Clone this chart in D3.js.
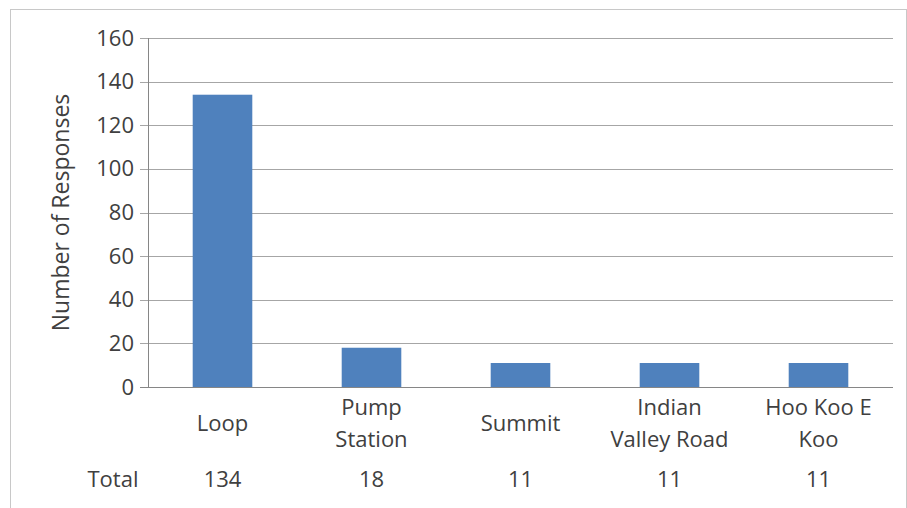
<!DOCTYPE html>
<html>
<head>
  <meta charset="utf-8">
  <title>Number of Responses</title>
  <script src="https://cdn.jsdelivr.net/npm/d3@7"></script>
  <style>
    body { margin: 0; background: #fff; }
    text { font-family: "Open Sans", sans-serif; fill: #404040; }
    .tick text { font-size: 22px; }
    .grid line { stroke: #a6a6a6; shape-rendering: crispEdges; }
    .grid path { display: none; }
  </style>
</head>
<body>
<script>
  // data
  var categories = ["Loop", "Pump|Station", "Summit", "Indian|Valley Road", "Hoo Koo E|Koo"];
  var values = [134, 18, 11, 11, 11];
  var yTicks = [0, 20, 40, 60, 80, 100, 120, 140, 160];

  var width = 907, height = 508;
  var plotLeft = 148, plotRight = 893, plotTop = 38, plotBottom = 387;

  var svg = d3.select("body").append("svg")
      .attr("width", width)
      .attr("height", height);

  // outer border
  svg.append("rect")
     .attr("x", 10.5).attr("y", 9.5)
     .attr("width", 896).attr("height", 520)
     .attr("fill", "none")
     .attr("stroke", "#c8c8c8");

  var x = d3.scaleBand().domain(categories).range([plotLeft, plotRight]).paddingInner(0.6).paddingOuter(0.3);
  var y = d3.scaleLinear().domain([0, 160]).range([plotBottom, plotTop]);

  // gridlines + y axis labels
  var yAxis = d3.axisLeft(y).tickValues(yTicks).tickSize(-(plotRight - plotLeft)).tickPadding(14);
  var gy = svg.append("g")
     .attr("class", "grid")
     .attr("transform", "translate(" + plotLeft + ",0)")
     .call(yAxis);
  gy.selectAll(".tick line").attr("x1", -8);

  // axis lines
  svg.append("line")
     .attr("x1", plotLeft + 0.5).attr("x2", plotLeft + 0.5)
     .attr("y1", plotTop).attr("y2", plotBottom)
     .attr("stroke", "#868686");
  svg.append("line")
     .attr("x1", plotLeft - 8).attr("x2", plotRight)
     .attr("y1", plotBottom + 0.5).attr("y2", plotBottom + 0.5)
     .attr("stroke", "#868686");

  // bars
  svg.selectAll(".bar")
     .data(values)
     .enter()
     .append("rect")
     .attr("class", "bar")
     .attr("x", function(d, i) { return x(categories[i]); })
     .attr("width", x.bandwidth())
     .attr("y", function(d) { return y(d); })
     .attr("height", function(d) { return y(0) - y(d); })
     .attr("fill", "#4f81bd");

  // category labels (multi-line)
  var lab = svg.selectAll(".cat")
     .data(categories)
     .enter()
     .append("text")
     .attr("class", "cat")
     .attr("text-anchor", "middle")
     .style("font-size", "22px");
  lab.each(function(d) {
    var lines = d.split("|");
    var cx = x(d) + x.bandwidth() / 2;
    var y0 = lines.length == 1 ? 431 : 415;
    d3.select(this).selectAll("tspan")
      .data(lines)
      .enter()
      .append("tspan")
      .attr("x", cx)
      .attr("y", function(l, i) { return y0 + i * 32; })
      .text(function(l) { return l; });
  });

  // total row
  svg.append("text")
     .attr("x", 113).attr("y", 487)
     .attr("text-anchor", "middle")
     .style("font-size", "22px")
     .text("Total");
  svg.selectAll(".tot")
     .data(values)
     .enter()
     .append("text")
     .attr("class", "tot")
     .attr("x", function(d, i) { return x(categories[i]) + x.bandwidth() / 2; })
     .attr("y", 487)
     .attr("text-anchor", "middle")
     .style("font-size", "22px")
     .text(function(d) { return d; });

  // y axis title
  svg.append("text")
     .attr("transform", "translate(69," + ((plotTop + plotBottom) / 2) + ") rotate(-90)")
     .attr("text-anchor", "middle")
     .style("font-size", "23px")
     .text("Number of Responses");
</script>
</body>
</html>
